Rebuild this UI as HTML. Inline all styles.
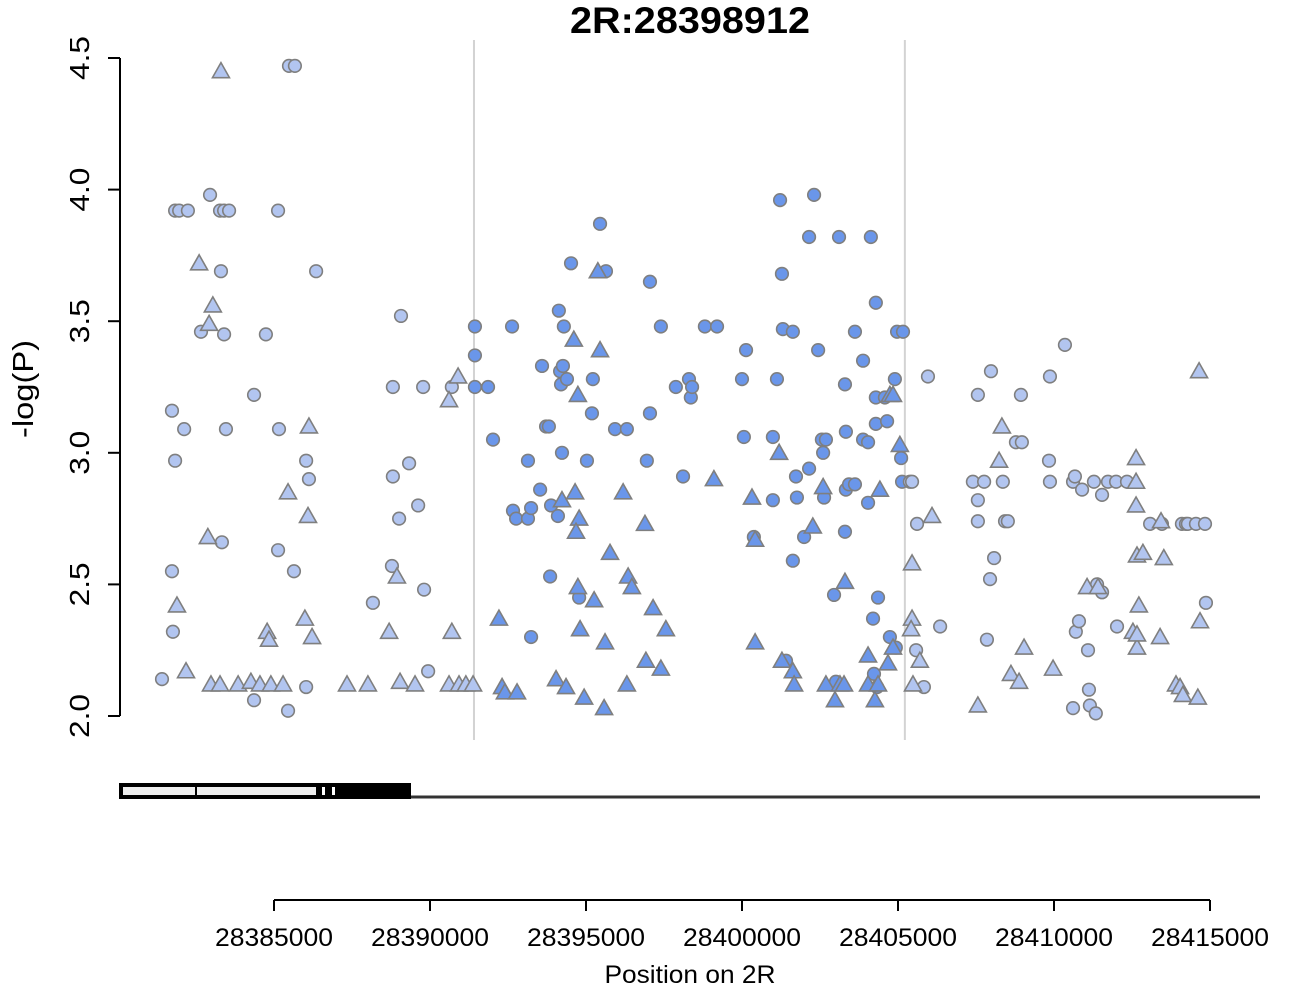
<!DOCTYPE html>
<html><head><meta charset="utf-8"><style>
html,body{margin:0;padding:0;background:#fff;}
svg{display:block;font-family:"Liberation Sans",sans-serif;}
</style></head><body>
<svg id="chart" width="1300" height="1000">
<text x="690" y="33" text-anchor="middle" font-size="37" font-weight="bold" textLength="240" lengthAdjust="spacingAndGlyphs">2R:28398912</text>
<text transform="translate(33,389) rotate(-90)" text-anchor="middle" font-size="29" textLength="98" lengthAdjust="spacingAndGlyphs">-log(P)</text>
<text x="690" y="983" text-anchor="middle" font-size="25" textLength="171" lengthAdjust="spacingAndGlyphs">Position on 2R</text>
<g id="gene-track">
<line x1="120" y1="797" x2="1260" y2="797" stroke="#333" stroke-width="3"/>
<rect x="121" y="785" width="197" height="12" fill="#eee" stroke="#000" stroke-width="4"/>
<line x1="196" y1="785" x2="196" y2="797" stroke="#000" stroke-width="2"/>
<rect x="318" y="783" width="93" height="16" fill="#000"/>
<rect x="322" y="787" width="3" height="8" fill="#fff"/>
<rect x="332" y="787" width="3" height="8" fill="#fff"/>
</g>
<g id="plot"></g>
</svg>
<script>
const BASE = 28380000;
const regionBounds = [28391410, 28405220];
const yTicks = [2.0, 2.5, 3.0, 3.5, 4.0, 4.5];
const yTickLabels = ["2.0","2.5","3.0","3.5","4.0","4.5"];
const xTicks = [28385000, 28390000, 28395000, 28400000, 28405000, 28410000, 28415000];
const xTickLabels = ["28385000","28390000","28395000","28400000","28405000","28410000","28415000"];
// circle SNPs: position offset (kb from BASE), -log(P)
const circX = [1.41,1.73,1.73,1.76,1.83,1.83,1.96,2.12,2.24,2.95,3.27,3.40,3.56,3.30,2.66,3.40,3.46,3.33,4.36,4.36,4.74,5.13,5.16,5.13,5.64,5.48,5.67,6.35,6.12,6.03,5.45,6.03,8.17,8.81,8.81,9.07,9.01,9.33,9.62,9.78,9.81,9.94,10.70,8.78,
11.44,11.44,11.44,11.86,12.02,12.63,12.66,12.76,13.14,13.14,13.24,13.24,13.53,13.59,13.72,13.81,13.88,13.85,14.10,14.13,14.17,14.20,14.23,14.26,14.29,14.39,14.52,14.78,15.03,15.22,15.19,15.45,15.64,15.93,16.31,17.05,17.05,16.95,17.40,17.88,18.11,18.30,18.36,18.40,18.81,19.20,20.00,20.13,20.06,20.38,20.99,20.99,21.22,21.28,21.31,21.12,21.41,21.63,21.63,21.73,21.76,21.99,22.15,22.31,22.15,22.44,22.56,22.63,22.69,22.60,22.95,23.01,23.11,23.30,23.33,23.33,23.30,23.43,23.62,23.62,23.88,23.88,24.04,24.04,24.13,24.29,24.29,24.29,24.36,24.20,24.23,24.33,24.58,24.65,24.74,24.90,24.97,25.16,25.10,24.93,25.13,
25.38,25.45,25.61,25.58,25.83,25.96,26.35,27.40,27.56,27.56,27.56,27.76,27.95,28.08,27.98,27.85,28.36,28.43,28.52,28.78,28.97,28.94,29.84,29.87,29.87,30.35,30.61,30.67,30.70,30.61,30.80,30.90,31.12,31.09,31.15,31.34,31.28,31.38,31.54,31.54,31.73,31.99,32.02,32.34,33.08,33.46,34.10,34.23,34.29,34.55,34.84,34.87];
const circY = [2.14,3.16,2.55,2.32,2.97,3.92,3.92,3.09,3.92,3.98,3.92,3.92,3.92,3.69,3.46,3.45,3.09,2.66,3.22,2.06,3.45,3.92,3.09,2.63,2.55,4.47,4.47,3.69,2.90,2.97,2.02,2.11,2.43,3.25,2.91,3.52,2.75,2.96,2.80,3.25,2.48,2.17,3.25,2.57,
3.48,3.37,3.25,3.25,3.05,3.48,2.78,2.75,2.75,2.97,2.79,2.30,2.86,3.33,3.10,3.10,2.80,2.53,2.76,3.54,3.31,3.26,3.00,3.33,3.48,3.28,3.72,2.45,2.97,3.28,3.15,3.87,3.69,3.09,3.09,3.65,3.15,2.97,3.48,3.25,2.91,3.28,3.21,3.25,3.48,3.48,3.28,3.39,3.06,2.68,3.06,2.82,3.96,3.68,3.47,3.28,2.21,2.59,3.46,2.91,2.83,2.68,2.94,3.98,3.82,3.39,3.05,2.83,3.05,3.00,2.46,2.13,3.82,3.26,3.08,2.86,2.70,2.88,2.88,3.46,3.35,3.05,3.04,2.81,3.82,3.57,3.21,3.11,2.45,2.37,2.16,2.11,3.21,3.12,2.30,3.28,3.46,3.46,2.98,2.26,2.89,
2.89,2.89,2.73,2.25,2.11,3.29,2.34,2.89,3.22,2.82,2.74,2.89,2.52,2.60,3.31,2.29,2.89,2.74,2.74,3.04,3.04,3.22,2.97,2.89,3.29,3.41,2.89,2.91,2.32,2.03,2.36,2.86,2.10,2.25,2.04,2.01,2.89,2.50,2.47,2.84,2.89,2.89,2.34,2.89,2.73,2.73,2.73,2.73,2.73,2.73,2.73,2.43];
// triangle SNPs
const triX = [1.89,2.18,2.60,3.30,3.04,2.92,2.88,2.98,3.27,3.85,4.26,4.55,4.78,4.84,4.90,5.29,5.45,6.12,6.09,5.99,6.22,7.34,8.01,8.69,8.94,9.04,9.52,10.70,10.61,10.90,10.61,10.93,11.15,11.38,
12.21,12.31,12.40,12.79,14.04,14.23,14.36,14.61,14.65,14.74,14.78,14.68,14.74,14.81,14.94,15.26,15.38,15.45,15.58,15.61,15.77,16.19,16.31,16.35,16.47,16.89,16.92,17.15,17.40,17.56,19.10,20.32,20.42,20.42,21.19,21.28,21.63,21.67,22.27,22.60,22.69,22.98,23.14,23.30,23.27,24.04,24.04,24.26,24.36,24.42,24.68,24.74,24.84,24.84,25.06,
25.45,25.45,25.42,25.48,25.70,26.09,27.56,28.24,28.33,28.62,28.88,29.04,29.97,31.06,31.41,32.53,32.63,32.63,32.63,32.66,32.85,32.72,32.66,32.66,33.40,33.52,33.91,34.04,34.13,34.61,34.68,34.65,33.43];
const triY = [2.42,2.17,3.72,4.45,3.56,3.49,2.68,2.12,2.12,2.12,2.13,2.12,2.32,2.29,2.12,2.12,2.85,3.10,2.76,2.37,2.30,2.12,2.12,2.32,2.53,2.13,2.12,2.32,3.20,3.29,2.12,2.12,2.12,2.12,
2.37,2.11,2.09,2.09,2.14,2.82,2.11,3.43,2.85,3.22,2.75,2.70,2.49,2.33,2.07,2.44,3.69,3.39,2.03,2.28,2.62,2.85,2.12,2.53,2.49,2.73,2.21,2.41,2.18,2.33,2.90,2.83,2.67,2.28,3.00,2.21,2.17,2.12,2.72,2.87,2.12,2.06,2.12,2.51,2.12,2.12,2.23,2.06,2.12,2.86,2.20,3.22,3.22,2.26,3.03,
2.58,2.37,2.33,2.12,2.21,2.76,2.04,2.97,3.10,2.16,2.13,2.26,2.18,2.49,2.49,2.32,2.98,2.89,2.80,2.61,2.62,2.42,2.26,2.31,2.30,2.60,2.12,2.11,2.08,2.07,2.36,3.31,2.74];

const NS = "http://www.w3.org/2000/svg";
const X0 = 28385000, X1 = 28415000, PX0 = 274, PX1 = 1210;
function xScale(v){ return PX0 + (v - X0) * (PX1 - PX0) / (X1 - X0); }
function yScale(v){ return 716 - (v - 2.0) * (716 - 58) / 2.5; }
function mk(tag, attrs, parent){ const e = document.createElementNS(NS, tag); for (const k in attrs) e.setAttribute(k, attrs[k]); parent.appendChild(e); return e; }
const plot = document.getElementById('plot');
const light = "#B2C5F0", dark = "#6A96EA", edge = "#7f7f7f";

regionBounds.forEach(function(b){
  const l = mk('line', {x1: xScale(b), x2: xScale(b), y1: 40, y2: 740, stroke: "#d3d3d3", "stroke-width": 2}, plot);
  
  
});
const ya = mk('g', {}, plot);


mk('line', {x1: 120, x2: 120, y1: yScale(yTicks[0]), y2: yScale(yTicks[yTicks.length-1]), stroke: "#000", "stroke-width": 2}, ya);
yTicks.forEach(function(t, i){
  const y = yScale(t);
  mk('line', {x1: 108, x2: 120, y1: y, y2: y, stroke: "#000", "stroke-width": 2}, ya);
  const tx = mk('text', {transform: "translate(89," + y + ") rotate(-90)", "text-anchor": "middle", "font-size": 28, textLength: 44, lengthAdjust: "spacingAndGlyphs"}, ya);
  tx.textContent = yTickLabels[i];
  
  
});
const xa = mk('g', {}, plot);


mk('line', {x1: xScale(xTicks[0]), x2: xScale(xTicks[xTicks.length-1]), y1: 900, y2: 900, stroke: "#000", "stroke-width": 2}, xa);
xTicks.forEach(function(t, i){
  const x = xScale(t);
  mk('line', {x1: x, x2: x, y1: 900, y2: 911, stroke: "#000", "stroke-width": 2}, xa);
  const tx = mk('text', {x: x, y: 946, "text-anchor": "middle", "font-size": 25, textLength: 118, lengthAdjust: "spacingAndGlyphs"}, xa);
  tx.textContent = xTickLabels[i];
  
  
});
function inRegion(p){ return p >= regionBounds[0] && p <= regionBounds[1]; }
circX.forEach(function(o, i){
  const p = BASE + o * 1000;
  const c = mk('circle', {cx: xScale(p), cy: yScale(circY[i]), r: 6.3, fill: inRegion(p) ? dark : light, stroke: edge, "stroke-width": 1.6}, plot);
  
  
});
triX.forEach(function(o, i){
  const p = BASE + o * 1000;
  const x = xScale(p), y = yScale(triY[i]);
  const t = mk('polygon', {points: (x-8.5)+","+(y+6.5)+" "+(x+8.5)+","+(y+6.5)+" "+x+","+(y-8.5), fill: inRegion(p) ? dark : light, stroke: edge, "stroke-width": 1.6}, plot);
  
  
});
</script>
</body></html>
